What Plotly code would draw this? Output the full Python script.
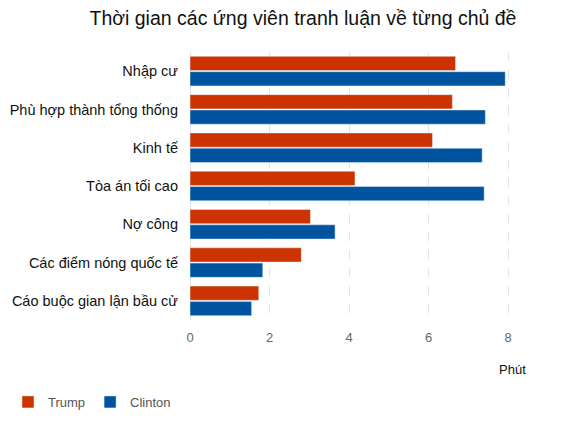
import plotly.graph_objects as go

# Topics (top to bottom) and minutes spoken per candidate
topics = ['Nhập cư', 'Phù hợp thành tổng thống', 'Kinh tế', 'Tòa án tối cao',
          'Nợ công', 'Các điểm nóng quốc tế', 'Cáo buộc gian lận bầu cử']
trump = [6.68, 6.6, 6.1, 4.15, 3.03, 2.8, 1.73]
clinton = [7.93, 7.43, 7.35, 7.4, 3.65, 1.83, 1.55]
x_ticks = [0, 2, 4, 6, 8]

fig = go.Figure()
fig.add_trace(go.Bar(y=topics, x=trump, name='Trump', orientation='h', marker_color='#CC3300'))
fig.add_trace(go.Bar(y=topics, x=clinton, name='Clinton', orientation='h', marker_color='#00549F'))

# page body has an 8px margin, so the figure is sized to the remaining area
fig.update_layout(
    width=570, height=415,
    title=dict(text='Thời gian các ứng viên tranh luận về từng chủ đề', x=0.5175, xanchor='center',
               y=0.976, yanchor='middle', font=dict(size=19.5, color='#111')),
    font=dict(family='Liberation Sans, Arial, sans-serif', size=14, color='#111'),
    paper_bgcolor='white', plot_bgcolor='white',
    margin=dict(l=182, r=68, t=44, b=103),
    barmode='group', bargap=0.2, bargroupgap=0.07,
    legend=dict(orientation='h', xref='container', yref='container', x=0.0, y=0.0506,
                xanchor='left', yanchor='middle', font=dict(size=13, color='#555'), traceorder='normal'),
    showlegend=True,
)

fig.update_xaxes(range=[0, 8.05], tickvals=x_ticks, showgrid=True, gridcolor='#e2e2e2', griddash='dash',
                 zeroline=True, zerolinecolor='#e2e2e2', zerolinewidth=1, automargin=False,
                 tickfont=dict(size=13, color='#666'), ticks='', ticklen=0, ticklabelstandoff=8)
fig.update_yaxes(autorange='reversed', showgrid=False, ticks='', ticklabelstandoff=11, automargin=False,
                 tickfont=dict(size=14.5, color='#111'))

fig.add_annotation(text='Phút', xref='paper', yref='paper', x=1.0, y=0, yshift=-49, xshift=2,
                   xanchor='center', yanchor='middle', showarrow=False,
                   font=dict(size=13, color='#111'))

fig.write_html("out.html")
